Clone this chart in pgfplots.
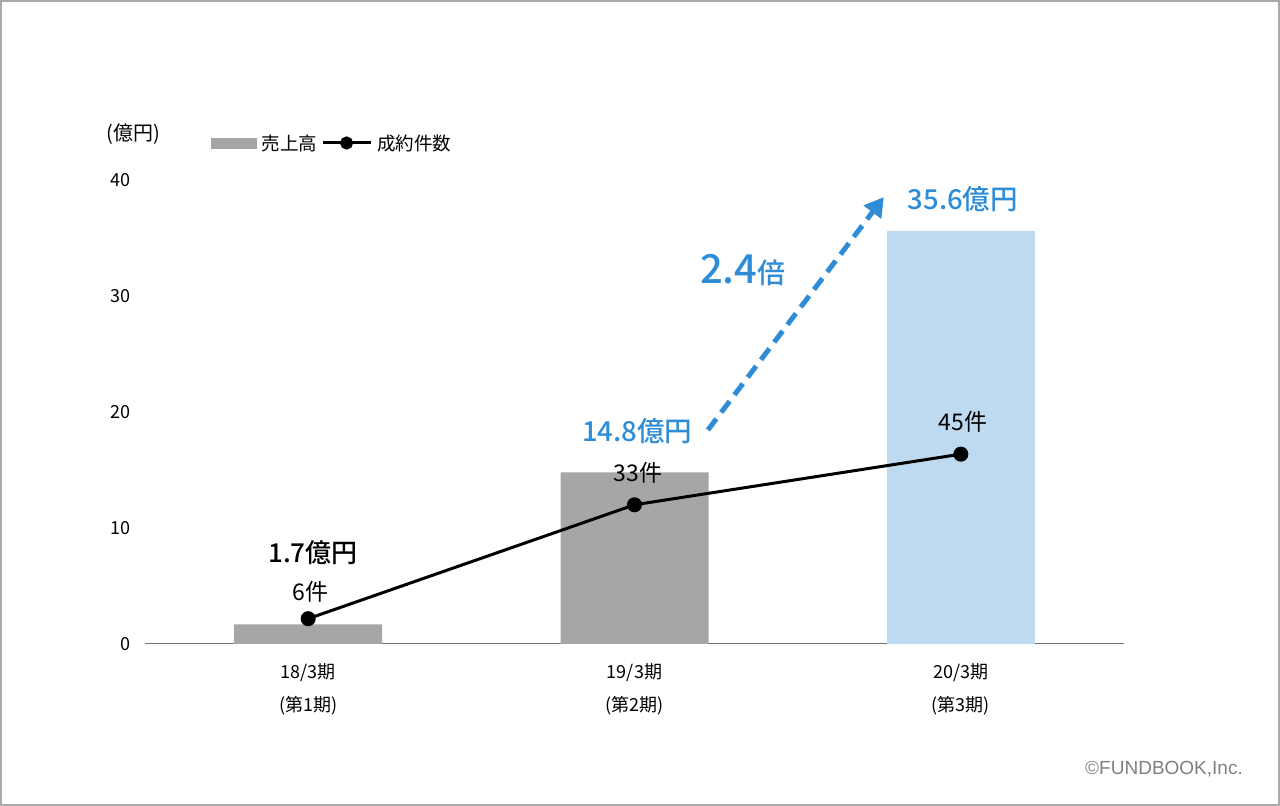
\documentclass[border=0pt]{standalone}
\usepackage{fontspec}
\setmainfont{Noto Sans CJK JP}
\newfontfamily\mediumfont{Noto Sans CJK JP Medium}
\newfontfamily\latinfont{Liberation Sans}
\usepackage{pgfplots}
\pgfplotsset{compat=1.18}
\usetikzlibrary{arrows.meta}

\definecolor{barGray}{RGB}{166,166,166}
\definecolor{barBlue}{RGB}{190,218,241}
\definecolor{accent}{RGB}{47,141,216}
\definecolor{frameGray}{RGB}{170,170,170}

\begin{document}
\begin{tikzpicture}[x=1bp,y=1bp]
\draw[frameGray, line width=2bp] (1,1) rectangle (1279,805);

% primary axis: sales (oku yen)
\begin{axis}[
  at={(145bp,162bp)}, anchor=south west,
  scale only axis, width=979bp, height=464bp,
  xmin=-0.5, xmax=2.5, ymin=0, ymax=40,
  separate axis lines,
  axis x line*=bottom, axis y line*=left,
  x axis line style={draw=black!55, line width=1bp, -},
  y axis line style={draw=none},
  major tick length=0pt,
  xtick={0,1,2}, ytick={0,10,20,30,40},
  xticklabels={{18/3期\\(第1期)},{19/3期\\(第2期)},{20/3期\\(第3期)}},
  xticklabel style={align=center, font=\fontsize{18bp}{33bp}\selectfont, yshift=-16bp},
  yticklabel style={font=\fontsize{18bp}{18bp}\selectfont, anchor=east, xshift=-11bp},
  /pgf/number format/assume math mode=true,
  clip=false,
]
\addplot[ybar, bar width=148bp, bar shift=0pt, fill=barGray, draw=none] coordinates {(0,1.7) (1,14.8)};
\addplot[ybar, bar width=148bp, bar shift=0pt, fill=barBlue, draw=none] coordinates {(2,35.6)};

\node[font=\fontsize{20bp}{20bp}\selectfont] at (axis cs:-0.535,43.97) {(億円)};
\node[font=\mediumfont\fontsize{26bp}{26bp}\selectfont] at (axis cs:0.015,7.84) {1.7億円};
\node[font=\fontsize{23bp}{23bp}\selectfont] at (axis cs:0.006,4.48) {6件};
\node[font=\fontsize{23bp}{23bp}\selectfont] at (axis cs:1.01,14.74) {33件};
\node[font=\fontsize{23bp}{23bp}\selectfont] at (axis cs:2.006,19.14) {45件};
\node[text=accent, font=\mediumfont\fontsize{27.5bp}{27.5bp}\selectfont] at (axis cs:1.008,18.36) {14.8億円};
\node[text=accent, font=\mediumfont\fontsize{27.5bp}{27.5bp}\selectfont] at (axis cs:2.006,38.36) {35.6億円};
\node[text=accent] at (axis cs:1.332,32.24) {{\mediumfont\fontsize{40bp}{40bp}\selectfont 2.4}{\mediumfont\fontsize{28bp}{28bp}\selectfont 倍}};
\draw[accent, line width=5bp, dash pattern=on 14bp off 8bp, -{Triangle[length=19bp,width=21bp]}]
  (axis cs:1.225,18.45) -- (axis cs:1.764,38.53);
\end{axis}

% secondary axis: number of deals (hidden scale 0-110)
\begin{axis}[
  at={(145bp,162bp)}, anchor=south west,
  scale only axis, width=979bp, height=464bp,
  xmin=-0.5, xmax=2.5, ymin=0, ymax=110,
  hide axis, clip=false,
  legend columns=2,
  legend style={draw=none, fill=none, inner sep=0pt,
    at={(rel axis cs:0,1)}, anchor=west, xshift=66bp, yshift=37bp,
    font=\fontsize{18.5bp}{18.5bp}\selectfont,
    /tikz/every odd column/.append style={column sep=3bp},
    /tikz/every even column/.append style={column sep=2bp}},
]
\addlegendimage{legend image code/.code={\fill[barGray] (0bp,-5bp) rectangle (45bp,5bp);}}
\addlegendentry{売上高}
\addplot[black, line width=3bp, mark=*, mark size=6bp,
  legend image code/.code={\draw[black, line width=3bp] (0bp,0bp) -- (48bp,0bp);
    \fill[black] (24bp,0bp) circle (5bp);}]
  coordinates {(0,6) (1,33) (2,45)};
\addlegendentry{成約件数}
\end{axis}

\node[anchor=east, text=black!50, font=\latinfont\fontsize{19bp}{19bp}\selectfont, inner sep=0pt] at (1243,37) {©FUNDBOOK,Inc.};
\end{tikzpicture}
\end{document}
